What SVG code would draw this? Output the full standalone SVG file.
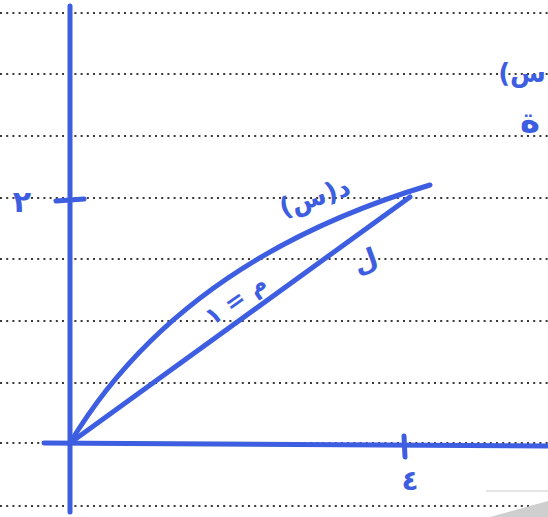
<svg xmlns="http://www.w3.org/2000/svg" width="548" height="517" viewBox="0 0 548 517">
<style>
.dot{stroke:#3a3a3a;stroke-width:2.2;stroke-dasharray:2 4.2;fill:none}
.ink{stroke:#3d5ee0;stroke-width:5;fill:none;stroke-linecap:round;stroke-linejoin:round}
.lbl{font-family:"DejaVu Sans","Noto Sans",sans-serif;fill:#3d5ee0;font-weight:bold}
</style>
<rect width="548" height="517" fill="#ffffff"/>
<g id="paper">
<line class="dot" x1="0" y1="13" x2="548" y2="13"/>
<line class="dot" x1="0" y1="74" x2="548" y2="74"/>
<line class="dot" x1="0" y1="136" x2="548" y2="136"/>
<line class="dot" x1="0" y1="198" x2="548" y2="198"/>
<line class="dot" x1="0" y1="259" x2="548" y2="259"/>
<line class="dot" x1="0" y1="321" x2="548" y2="321"/>
<line class="dot" x1="0" y1="383" x2="548" y2="383"/>
<line class="dot" x1="0" y1="443" x2="548" y2="443"/>
<line class="dot" x1="0" y1="506" x2="548" y2="506"/>
<line x1="486" y1="491" x2="548" y2="491" stroke="#dcdcdc" stroke-width="1.5"/>
<polygon points="490,517 548,501 548,517" fill="#cfcfcf"/>
</g>
<g id="axes">
<line class="ink" x1="70" y1="6" x2="70" y2="512"/>
<line class="ink" x1="44" y1="443" x2="548" y2="446"/>
<line class="ink" x1="56" y1="201" x2="84" y2="199"/>
<line class="ink" x1="404" y1="436" x2="405" y2="457"/>
</g>
<g id="connectors">
<path id="curve" class="ink" d="M70,443 Q180,260 430,185"/>
<line id="chord" class="ink" x1="70" y1="443" x2="410" y2="197"/>
</g>
<g id="labels">
<text class="lbl" x="22" y="212" font-size="30" text-anchor="middle">٢</text>
<text class="lbl" x="410" y="490" font-size="28" text-anchor="middle">٤</text>
<text class="lbl" x="315" y="206" font-size="26" text-anchor="middle" direction="rtl" transform="rotate(-18 315 198)">د(س)</text>
<text class="lbl" x="366" y="270" font-size="28" text-anchor="middle" transform="rotate(-20 366 262)">ل</text>
<text class="lbl" x="236" y="308" font-size="24" text-anchor="middle" direction="rtl" transform="rotate(-35 236 300)">م = ١</text>
<text class="lbl" x="546" y="82" font-size="26" text-anchor="end" direction="ltr">(س</text>
<text class="lbl" x="530" y="132" font-size="34" text-anchor="middle">ة</text>
</g>
</svg>
